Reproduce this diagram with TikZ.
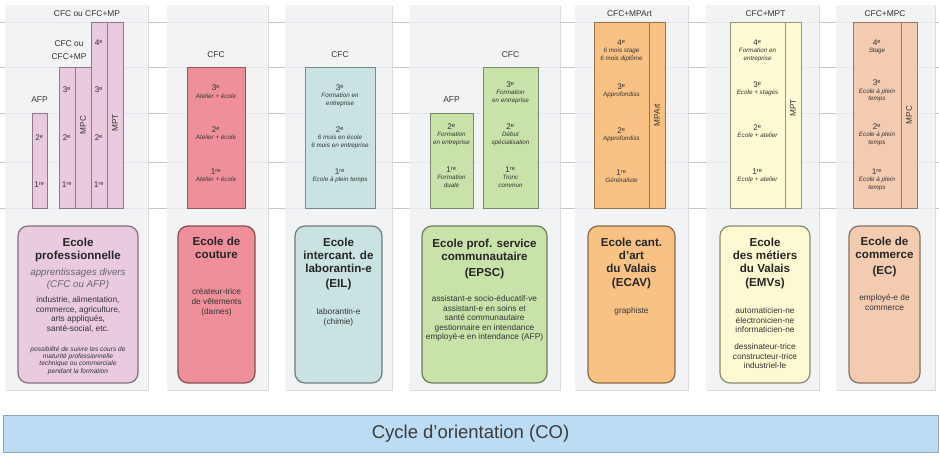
\documentclass[tikz,border=0pt]{standalone}
\usepackage{fontspec}
\setmainfont{Liberation Sans}
\usetikzlibrary{positioning}
\definecolor{panelgray}{HTML}{EEF0F2}
\definecolor{gridgray}{HTML}{C4C7CA}
\definecolor{txtdark}{HTML}{262626}
\definecolor{txtgray}{HTML}{343434}
\definecolor{pinkc}{HTML}{EACADF}
\definecolor{redc}{HTML}{EF8F99}
\definecolor{tealc}{HTML}{C9E3E2}
\definecolor{greenc}{HTML}{C9E2AA}
\definecolor{orangec}{HTML}{F8C285}
\definecolor{yellowc}{HTML}{FDF9D2}
\definecolor{peachc}{HTML}{F3CBB0}
\definecolor{bandblue}{HTML}{BCDCF4}
\definecolor{bandline}{HTML}{8FA6B8}
\begin{document}
\begin{tikzpicture}[x=1pt,y=-1pt,
   panel/.style={fill=panelgray,fill opacity=0.8,draw=none},
   bar/.style={draw=#1!60!black,fill=#1,line width=0.7pt},
   school/.style={draw=#1!55!black,fill=#1,line width=1.2pt,rounded corners=10pt,
      minimum height=157pt},
   head/.style={font=\fontsize{8.4}{10}\selectfont,text=txtgray,align=center,inner sep=0pt},
   year/.style={font=\fontsize{8.2}{9}\selectfont,text=txtgray,inner sep=0pt},
   desc/.style={font=\fontsize{6.3}{7.6}\selectfont\itshape,text=txtgray,align=center,inner sep=0pt},
   vlabel/.style={font=\fontsize{8.2}{9}\selectfont,text=txtgray,rotate=90,inner sep=0pt},
   title/.style={font=\fontsize{11.6}{13.3}\selectfont\bfseries,text=txtdark,align=center,inner sep=0pt},
   sub/.style={font=\fontsize{9.8}{11.3}\selectfont\itshape,text=txtgray!75,align=center,inner sep=0pt},
   body/.style={font=\fontsize{8.3}{9.6}\selectfont,text=txtgray,align=center,inner sep=0pt},
   note/.style={font=\fontsize{6.6}{7.2}\selectfont\itshape,text=txtgray,align=center,inner sep=0pt}]
   \useasboundingbox (0,0) rectangle (939,460);
   \foreach \yy in {22,67,113,162,208}
      \draw[gridgray,line width=0.8pt] (0,\yy) -- (939,\yy);
   \foreach \xa/\xb in {5/148,167/268,285/392,409/560,575/688,706/819,836/935}{
      \draw[black!14,line width=1.2pt] (\xa+1,390.6) -- (\xb+0.6,390.6) -- (\xb+0.6,6);
      \fill[panel] (\xa,5) rectangle (\xb,390);}

   \draw[bar=pinkc] (32,113) rectangle (47,208);
   \draw[bar=pinkc] (59,67) rectangle (75,208) (75,67) rectangle (91,208);
   \draw[bar=pinkc] (91,22) rectangle (107,208) (107,22) rectangle (123,208);
   \draw[bar=redc] (187,67) rectangle (245,208);
   \draw[bar=tealc] (305,67) rectangle (375,208);
   \draw[bar=greenc] (430,113) rectangle (473,208);
   \draw[bar=greenc] (483,67) rectangle (538,208);
   \draw[bar=orangec] (594,22) rectangle (665,208) (649,22) -- (649,208);
   \draw[bar=yellowc] (730,22) rectangle (801,208) (785,22) -- (785,208);
   \draw[bar=peachc] (853,22) rectangle (917,208) (901,22) -- (901,208);

   \node[head] (afpep) at (39.5,100) {AFP};
   \node[head] (cfcmpa) at (69,50) {CFC ou\\[3pt]CFC+MP};
   \node[head] (cfcmpb) at (87,14) {CFC ou CFC+MP};
   \node[head] (cfccou) at (216,55) {CFC};
   \node[head] (cfceil) at (340,55) {CFC};
   \node[head] (afpepsc) at (451.5,100) {AFP};
   \node[head] (cfcepsc) at (510.5,55) {CFC};
   \node[head] (cfcecav) at (629.5,14) {CFC+MPArt};
   \node[head] (cfcemv) at (765.5,14) {CFC+MPT};
   \node[head] (cfcec) at (885,14) {CFC+MPC};

   \node[vlabel] (mpca) at (83,125) {MPC};
   \node[vlabel] (mpta) at (115,123) {MPT};
   \node[vlabel] (mpart) at (657,115) {MPArt};
   \node[vlabel] (mptb) at (793,108) {MPT};
   \node[vlabel] (mpcb) at (909,115) {MPC};

   \foreach \yr/\ex/\yy in {2/e/138,1/re/185}
      \node[year] (afpy\yr) at (39.5,\yy) {\yr\textsuperscript{\ex}};
   \foreach \yr/\ex/\yy in {3/e/90,2/e/138,1/re/185}
      \node[year] (mpcy\yr) at (67,\yy) {\yr\textsuperscript{\ex}};
   \foreach \yr/\ex/\yy in {4/e/43,3/e/90,2/e/138,1/re/185}
      \node[year] (mpty\yr) at (99,\yy) {\yr\textsuperscript{\ex}};

   \foreach \yr/\ex/\yy/\txt in {3/e/88/{Atelier + école},2/e/130/{Atelier + école},
         1/re/172/{Atelier + école}}{
      \node[year] (couy\yr) at (216,\yy) {\yr\textsuperscript{\ex}};
      \node[desc,below=2pt of couy\yr] (coud\yr) {\txt};}
   \foreach \yr/\ex/\yy/\txt in {3/e/88/{Formation en\\entreprise},
         2/e/130/{6 mois en école\\6 mois en entreprise},1/re/172/{Ecole à plein temps}}{
      \node[year] (eily\yr) at (340,\yy) {\yr\textsuperscript{\ex}};
      \node[desc,below=2pt of eily\yr] (eild\yr) {\txt};}
   \foreach \yr/\ex/\yy/\txt in {2/e/127/{Formation\\en entreprise},1/re/170/{Formation\\duale}}{
      \node[year] (afpsy\yr) at (451.5,\yy) {\yr\textsuperscript{\ex}};
      \node[desc,below=2pt of afpsy\yr] (afpsd\yr) {\txt};}
   \foreach \yr/\ex/\yy/\txt in {3/e/85/{Formation\\en entreprise},2/e/127/{Début\\spécialisation},
         1/re/170/{Tronc\\commun}}{
      \node[year] (epscy\yr) at (510.5,\yy) {\yr\textsuperscript{\ex}};
      \node[desc,below=2pt of epscy\yr] (epscd\yr) {\txt};}
   \foreach \yr/\ex/\yy/\txt in {4/e/43/{6 mois stage\\6 mois diplôme},3/e/87/{Approfondiss},
         2/e/131/{Approfondiss},1/re/173/{Généraliste}}{
      \node[year] (ecavy\yr) at (621.5,\yy) {\yr\textsuperscript{\ex}};
      \node[desc,below=2pt of ecavy\yr] (ecavd\yr) {\txt};}
   \foreach \yr/\ex/\yy/\txt in {4/e/43/{Formation en\\entreprise},3/e/85/{Ecole + stages},
         2/e/128/{Ecole + atelier},1/re/172/{Ecole + atelier}}{
      \node[year] (emvy\yr) at (757.5,\yy) {\yr\textsuperscript{\ex}};
      \node[desc,below=2pt of emvy\yr] (emvd\yr) {\txt};}
   \foreach \yr/\ex/\yy/\txt in {4/e/43/{Stage},3/e/83/{Ecole à plein\\temps},
         2/e/127/{Ecole à plein\\temps},1/re/172/{Ecole à plein\\temps}}{
      \node[year] (ecy\yr) at (877,\yy) {\yr\textsuperscript{\ex}};
      \node[desc,below=2pt of ecy\yr] (ecd\yr) {\txt};}

   \node[school=pinkc,minimum width=120pt] (ep) at (78,304.5) {};
   \node[title,below=12.5pt of ep.north] (ept) {Ecole\\professionnelle};
   \node[sub,below=6pt of ept] (eps) {apprentissages divers\\(CFC ou AFP)};
   \node[body,below=7pt of eps] (epb) {industrie, alimentation,\\commerce, agriculture,\\arts appliqués,\\santé-social, etc.};
   \node[note,below=14pt of epb] (epn) {possibilité de suivre les cours de\\maturité professionnelle\\technique ou commerciale\\pendant la formation};

   \node[school=redc,minimum width=77pt] (cou) at (216.5,304.5) {};
   \node[title,below=11pt of cou.north] (cout) {Ecole de\\couture};
   \node[body,below=30pt of cout] (coub) {créateur-trice\\de vêtements\\(dames)};

   \node[school=tealc,minimum width=87pt] (eil) at (338.5,304.5) {};
   \node[title,below=12pt of eil.north] (eilt) {Ecole\\intercant. de\\laborantin-e\\[2pt](EIL)};
   \node[body,below=18pt of eilt] (eilb) {laborantin-e\\(chimie)};

   \node[school=greenc,minimum width=125pt] (epsc) at (484.5,304.5) {};
   \node[title,below=13pt of epsc.north] (epsct) {Ecole prof. service\\communautaire\\[3pt](EPSC)};
   \node[body,below=16pt of epsct] (epscb) {assistant-e socio-éducatif-ve\\assistant-e en soins et\\santé communautaire\\gestionnaire en intendance\\employé-e en intendance (AFP)};

   \node[school=orangec,minimum width=87pt] (ecav) at (631.5,304.5) {};
   \node[title,below=12pt of ecav.north] (ecavt) {Ecole cant.\\d’art\\du Valais\\[1pt](ECAV)};
   \node[body,below=18pt of ecavt] (ecavb) {graphiste};

   \node[school=yellowc,minimum width=90pt] (emv) at (765,304.5) {};
   \node[title,below=12pt of emv.north] (emvt) {Ecole\\des métiers\\du Valais\\[1pt](EMVs)};
   \node[body,below=18pt of emvt] (emvb) {automaticien-ne\\électronicien-ne\\informaticien-ne\\[7pt]dessinateur-trice\\constructeur-trice\\industriel-le};

   \node[school=peachc,minimum width=71pt] (ec) at (884.5,304.5) {};
   \node[title,below=11pt of ec.north] (ect) {Ecole de\\commerce\\[3pt](EC)};
   \node[body,below=17pt of ect] (ecb) {employé-e de\\commerce};

   \node[draw=bandline,fill=bandblue,line width=1pt,minimum width=935pt,minimum height=37pt,
      font=\fontsize{18.5}{21}\selectfont,text=txtdark!90] (co) at (470.5,433.5) {Cycle d’orientation (CO)};
\end{tikzpicture}
\end{document}
